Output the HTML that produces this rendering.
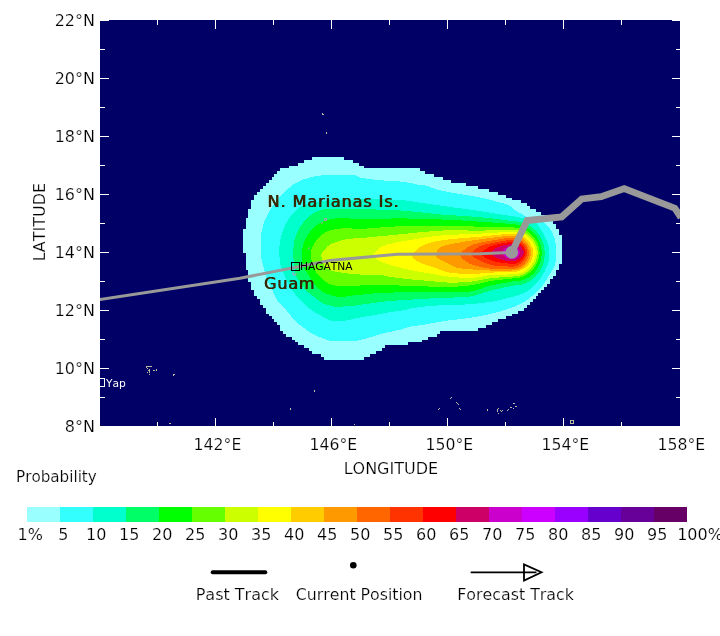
<!DOCTYPE html>
<html><head><meta charset="utf-8">
<style>
html,body{margin:0;padding:0;background:#fff;}
body{width:720px;height:636px;overflow:hidden;position:relative;}
svg{position:absolute;left:0;top:0;}
text{font-family:"DejaVu Sans","Liberation Sans",sans-serif;fill:#000;font-kerning:none;}
.ax{font-size:16px;} .ax text,text.ax{stroke:#fff;stroke-width:0.2px;}
.tk{stroke:#fff;stroke-width:1;shape-rendering:crispEdges;}
.lbl{position:absolute;font:16px "DejaVu Sans","Liberation Sans",sans-serif;color:#382600;text-shadow:0.75px 0 0 #382600;letter-spacing:0.82px;white-space:nowrap;line-height:20px;font-kerning:none;}
</style></head><body>
<svg width="720" height="636" viewBox="0 0 720 636">
<!-- MAP -->
<rect x="100" y="20" width="580" height="406" fill="#000066" shape-rendering="crispEdges"/>
<g id="swath" shape-rendering="crispEdges">
<path d="M312 157H344V160H312ZM304 160H353V163H304ZM298 163H359V166H298ZM289 166H364V168H289ZM280 168H420V171H280ZM277 171H425V174H277ZM274 174H434V177H274ZM272 177H443V180H272ZM269 180H451V183H269ZM266 183H466V186H266ZM263 186H478V189H263ZM260 189H489V192H260ZM257 192H498V195H257ZM254 195H506V198H254ZM254 198H512V200H254ZM251 200H521V203H251ZM251 203H527V206H251ZM251 206H530V209H251ZM248 209H536V212H248ZM248 212H541V215H248ZM248 215H547V218H248ZM246 218H550V221H246ZM246 221H553V224H246ZM246 224H556V226H246ZM246 226H556V229H246ZM243 229H559V232H243ZM243 232H559V235H243ZM243 235H562V238H243ZM243 238H562V241H243ZM243 241H562V244H243ZM243 244H562V247H243ZM243 247H562V250H243ZM243 250H562V253H243ZM246 253H562V256H246ZM246 256H562V258H246ZM246 258H562V261H246ZM246 261H562V264H246ZM246 264H559V267H246ZM246 267H559V270H246ZM248 270H556V273H248ZM248 273H556V276H248ZM248 276H553V279H248ZM248 279H550V282H248ZM251 282H550V284H251ZM251 284H547V287H251ZM251 287H544V290H251ZM254 290H541V293H254ZM254 293H538V296H254ZM257 296H536V299H257ZM260 299H533V302H260ZM260 302H530V305H260ZM263 305H527V308H263ZM266 308H524V311H266ZM266 311H518V314H266ZM269 314H512V316H269ZM272 316H506V319H272ZM274 319H498V322H274ZM277 322H492V325H277ZM280 325H486V328H280ZM280 328H478V331H280ZM283 331H440V334H283ZM286 334H437V337H286ZM292 337H428V340H292ZM295 340H422V342H295ZM298 342H408V345H298ZM304 345H385V348H304ZM309 348H382V351H309ZM312 351H376V354H312ZM321 354H370V357H321ZM324 357H364V360H324Z" fill="#99ffff"/>
<path d="M261.0 245.0C261.1 241.2 260.6 237.5 261.3 233.3C262.0 229.1 263.2 224.4 265.0 220.0C266.8 215.6 269.2 211.2 272.0 207.0C274.8 202.8 277.9 198.9 281.7 195.0C285.5 191.1 290.3 186.2 295.0 183.3C299.7 180.4 304.7 178.9 310.0 177.5C315.3 176.1 319.5 175.4 326.7 175.0C333.9 174.6 347.4 174.6 353.0 175.0C358.6 175.4 356.1 176.7 360.0 177.5C363.9 178.3 369.8 179.3 376.7 180.0C383.6 180.7 394.5 180.9 401.7 181.7C408.9 182.5 415.8 184.3 420.0 185.0C424.2 185.7 423.6 185.0 426.7 185.8C429.8 186.6 432.8 188.6 438.3 190.0C443.9 191.4 453.1 192.8 460.0 194.0C466.9 195.2 473.3 196.1 480.0 197.5C486.7 198.9 495.0 201.1 500.0 202.5C505.0 203.9 507.5 204.6 510.0 205.8C512.5 207.1 512.2 208.2 515.0 210.0C517.8 211.8 522.5 214.9 526.7 216.7C530.9 218.4 536.6 219.1 540.0 220.5C543.4 221.9 544.8 222.9 546.9 225.0C549.0 227.1 551.0 229.8 552.5 233.0C554.0 236.2 555.2 240.2 555.8 244.0C556.4 247.8 556.3 252.7 556.2 256.0C556.1 259.3 555.5 261.9 555.0 264.0C554.5 266.1 554.4 266.2 553.3 268.3C552.2 270.4 550.2 273.6 548.3 276.7C546.4 279.8 544.2 283.6 541.7 286.7C539.2 289.8 536.4 292.4 533.3 295.0C530.2 297.6 527.2 300.3 523.3 302.5C519.4 304.7 515.0 306.5 510.0 308.3C505.0 310.1 498.9 311.9 493.3 313.3C487.8 314.7 482.2 315.7 476.7 316.7C471.1 317.7 464.4 318.6 460.0 319.2C455.6 319.8 455.0 319.5 450.0 320.2C445.0 320.9 435.0 322.6 430.0 323.5C425.0 324.4 423.3 324.8 420.0 325.3C416.7 325.8 413.3 326.0 410.0 326.7C406.7 327.4 403.9 328.7 400.0 329.7C396.1 330.7 390.6 331.6 386.7 332.5C382.8 333.4 380.0 334.3 376.7 335.3C373.4 336.3 370.3 337.4 366.7 338.3C363.1 339.2 360.8 340.4 355.0 340.8C349.2 341.2 337.0 341.2 331.7 340.8C326.4 340.4 326.6 339.8 323.3 338.5C320.0 337.2 315.0 335.1 311.7 333.3C308.4 331.5 306.2 329.7 303.3 327.5C300.4 325.3 297.2 323.2 294.2 320.0C291.1 316.8 288.0 311.8 285.0 308.3C282.0 304.8 278.3 302.1 276.3 299.2C274.3 296.3 274.4 294.0 272.9 290.8C271.3 287.6 268.6 284.1 267.0 280.0C265.4 275.9 264.3 270.0 263.3 266.0C262.3 262.0 261.2 259.5 260.8 256.0C260.4 252.5 260.9 248.8 261.0 245.0Z" fill="#33ffff"/>
<path d="M279.5 246.0C279.9 240.8 281.1 235.8 282.6 231.2C284.2 226.6 286.7 221.8 288.8 218.6C290.9 215.3 293.4 213.5 295.1 211.7C296.8 209.9 297.1 209.0 298.9 207.8C300.7 206.6 303.3 205.4 306.0 204.5C308.7 203.6 311.0 203.0 315.0 202.3C319.0 201.6 325.8 200.7 330.0 200.3C334.2 199.9 333.3 200.0 340.0 199.8C346.7 199.7 360.2 199.4 370.0 199.4C379.8 199.4 390.0 199.2 399.0 199.8C408.0 200.5 417.2 202.4 424.0 203.3C430.8 204.2 434.0 204.7 440.0 205.5C446.0 206.3 453.3 207.4 460.0 208.3C466.7 209.2 473.3 210.0 480.0 211.0C486.7 212.0 495.0 213.5 500.0 214.3C505.0 215.1 506.7 215.3 510.0 215.8C513.3 216.3 515.9 216.5 520.0 217.5C524.1 218.5 530.7 218.9 534.6 221.7C538.5 224.4 541.4 230.3 543.6 234.0C545.8 237.7 547.1 240.9 548.0 244.0C548.9 247.1 549.1 249.4 549.2 252.4C549.3 255.4 549.0 259.5 548.6 261.9C548.2 264.3 547.9 264.2 546.7 266.7C545.6 269.2 543.9 273.4 541.7 276.7C539.5 280.0 536.4 283.9 533.3 286.7C530.2 289.5 527.2 291.5 523.3 293.3C519.4 295.1 515.0 296.1 510.0 297.5C505.0 298.9 498.9 300.5 493.3 301.5C487.8 302.5 482.2 302.9 476.7 303.5C471.1 304.1 464.4 304.6 460.0 304.8C455.6 305.1 455.0 304.8 450.0 305.0C445.0 305.2 436.7 305.4 430.0 306.0C423.3 306.6 414.2 307.8 410.0 308.5C405.8 309.2 408.6 309.3 405.0 310.0C401.4 310.7 393.3 311.7 388.3 312.5C383.3 313.3 380.0 314.1 375.0 315.0C370.0 315.9 362.9 316.9 358.3 317.8C353.7 318.7 350.9 319.8 347.5 320.3C344.1 320.8 340.9 321.0 338.0 321.0C335.1 321.0 332.3 320.9 330.0 320.3C327.7 319.7 326.4 318.7 324.2 317.5C322.0 316.3 319.2 314.8 316.7 313.3C314.2 311.8 311.4 310.1 309.2 308.3C307.0 306.5 305.2 304.4 303.3 302.5C301.4 300.6 299.3 298.6 297.5 296.7C295.7 294.8 294.4 293.8 292.5 290.8C290.6 287.9 287.7 282.5 286.0 279.0C284.3 275.5 283.5 272.7 282.5 270.0C281.5 267.3 280.5 266.6 280.0 262.6C279.5 258.6 279.1 251.2 279.5 246.0Z" fill="#00ffcc"/>
<path d="M293.3 249.0C293.5 244.9 294.1 241.1 295.2 237.5C296.3 233.9 298.0 230.4 299.8 227.4C301.6 224.4 303.8 221.8 306.0 219.5C308.2 217.2 310.5 215.1 313.0 213.5C315.5 211.9 317.7 210.8 321.0 210.0C324.3 209.2 326.3 208.7 332.8 208.6C339.3 208.5 348.8 208.9 360.0 209.2C371.2 209.5 386.7 209.5 400.0 210.4C413.3 211.3 426.7 213.3 440.0 214.4C453.3 215.5 468.5 216.2 480.0 217.2C491.5 218.2 501.4 219.6 509.0 220.6C516.6 221.6 520.8 221.5 525.4 223.3C530.0 225.1 533.8 228.5 536.7 231.5C539.5 234.5 541.2 237.7 542.6 241.2C543.9 244.7 544.7 248.4 544.8 252.4C544.9 256.4 544.4 260.9 542.9 264.9C541.4 269.0 538.9 273.3 535.8 276.4C532.8 279.6 528.4 282.1 524.4 283.7C520.4 285.3 517.5 284.7 511.8 285.9C506.1 287.1 495.3 289.4 490.0 290.8C484.7 292.2 483.3 293.1 480.0 294.0C476.7 294.9 475.0 295.9 470.0 296.5C465.0 297.1 456.7 297.4 450.0 297.7C443.3 298.0 436.7 298.2 430.0 298.5C423.3 298.8 416.7 299.3 410.0 299.7C403.3 300.1 396.7 300.4 390.0 301.0C383.3 301.6 373.9 303.0 370.0 303.5C366.1 304.0 369.5 303.4 366.7 303.8C363.9 304.2 358.3 305.3 353.3 305.8C348.3 306.3 340.9 306.8 336.7 306.7C332.5 306.6 330.4 305.5 328.3 305.0C326.2 304.5 325.8 304.8 323.9 303.9C322.0 303.0 319.2 300.9 317.2 299.4C315.2 297.9 313.5 296.5 311.7 295.0C309.9 293.5 308.0 292.6 306.1 290.6C304.2 288.6 302.4 285.4 300.6 282.8C298.8 280.2 296.6 278.5 295.5 275.0C294.4 271.5 294.2 266.3 293.8 262.0C293.4 257.7 293.1 253.1 293.3 249.0Z" fill="#00ff66"/>
<path d="M302.2 251.0C302.5 247.4 302.9 244.3 304.2 241.2C305.4 238.1 307.7 235.0 309.7 232.4C311.7 229.8 313.5 227.4 316.0 225.5C318.5 223.6 321.5 222.0 324.5 220.8C327.5 219.7 330.5 219.1 334.0 218.6C337.5 218.1 341.1 217.9 345.4 218.0C349.7 218.1 350.9 219.1 360.0 219.2C369.1 219.3 386.7 218.4 400.0 218.4C413.3 218.4 426.7 218.9 440.0 219.4C453.3 219.9 468.5 220.9 480.0 221.7C491.5 222.4 501.7 223.2 509.0 223.9C516.3 224.6 519.8 224.6 524.0 226.2C528.2 227.8 531.7 230.9 534.3 233.5C536.9 236.2 538.4 239.1 539.7 242.3C540.9 245.4 541.8 248.8 541.8 252.4C541.8 256.0 541.3 260.1 539.8 263.7C538.4 267.3 536.2 271.2 533.4 274.0C530.6 276.7 526.6 278.8 523.0 280.1C519.4 281.3 517.3 280.6 511.8 281.6C506.3 282.6 495.3 284.6 490.0 285.8C484.7 287.0 483.3 288.1 480.0 289.0C476.7 289.9 475.0 291.0 470.0 291.5C465.0 292.0 456.7 291.8 450.0 291.8C443.3 291.9 436.7 291.8 430.0 291.8C423.3 291.8 416.7 291.7 410.0 291.8C403.3 291.9 395.0 292.5 390.0 292.7C385.0 292.9 383.9 292.6 380.0 292.9C376.1 293.1 371.1 293.8 366.7 294.2C362.2 294.6 357.9 294.9 353.3 295.4C348.7 295.9 343.7 297.4 339.2 297.1C334.7 296.8 329.5 294.9 326.1 293.5C322.7 292.1 321.0 290.7 318.9 288.9C316.8 287.1 315.0 285.0 313.3 282.8C311.6 280.6 310.3 277.7 308.9 275.6C307.5 273.5 306.1 272.2 305.0 270.0C303.9 267.8 303.0 265.8 302.5 262.6C302.0 259.4 301.9 254.6 302.2 251.0Z" fill="#00ff00"/>
<path d="M310.8 253.0C310.9 250.3 311.6 248.7 312.7 246.3C313.8 243.9 315.6 241.0 317.7 238.7C319.8 236.4 322.4 234.0 325.3 232.4C328.2 230.8 331.5 230.0 335.3 229.3C339.1 228.6 343.8 228.1 347.9 228.0C352.0 227.9 351.3 229.2 360.0 228.9C368.7 228.6 386.7 226.8 400.0 226.2C413.3 225.6 426.7 225.5 440.0 225.6C453.3 225.7 468.5 226.4 480.0 226.7C491.5 227.0 501.9 226.8 509.0 227.2C516.1 227.6 518.9 227.6 522.8 228.9C526.6 230.3 529.8 232.9 532.2 235.3C534.6 237.6 536.1 240.2 537.4 243.1C538.6 245.9 539.6 249.1 539.6 252.4C539.6 255.7 538.7 259.5 537.3 262.7C535.8 265.9 533.5 269.2 531.0 271.6C528.4 274.0 525.0 275.9 521.8 277.1C518.6 278.2 517.1 277.8 511.8 278.5C506.5 279.2 495.3 280.3 490.0 281.1C484.7 281.9 483.3 282.8 480.0 283.5C476.7 284.2 475.0 284.8 470.0 285.4C465.0 285.9 460.0 286.7 450.0 286.8C440.0 286.9 421.7 286.4 410.0 286.0C398.3 285.6 387.8 284.7 380.0 284.6C372.2 284.5 368.4 285.2 363.3 285.4C358.2 285.6 354.1 285.8 349.2 285.8C344.3 285.8 338.1 286.0 334.2 285.4C330.3 284.8 328.2 283.6 325.8 282.1C323.4 280.7 321.8 278.6 320.0 276.7C318.2 274.8 316.3 272.9 315.0 270.5C313.7 268.1 312.8 265.5 312.1 262.6C311.4 259.7 310.7 255.7 310.8 253.0Z" fill="#66ff00"/>
<path d="M321.5 254.0C322.0 252.1 323.8 250.4 325.3 248.8C326.8 247.2 327.8 245.8 330.3 244.4C332.8 243.0 337.0 241.6 340.4 240.6C343.8 239.6 347.1 239.1 350.4 238.7C353.7 238.3 351.7 238.8 360.0 238.1C368.3 237.4 386.7 235.6 400.0 234.3C413.3 233.1 426.7 231.2 440.0 230.6C453.3 230.0 468.5 230.7 480.0 230.6C491.5 230.5 502.0 229.9 509.0 230.0C516.0 230.1 518.1 230.1 521.7 231.2C525.3 232.3 528.2 234.6 530.5 236.7C532.8 238.8 534.3 241.1 535.6 243.8C536.8 246.4 537.9 249.4 537.9 252.4C537.9 255.4 536.9 259.0 535.5 262.0C534.1 264.9 532.0 267.9 529.5 270.1C527.1 272.4 524.0 274.2 521.0 275.3C518.1 276.3 517.0 276.1 511.8 276.6C506.6 277.1 495.3 277.7 490.0 278.3C484.7 278.9 483.3 279.6 480.0 280.2C476.7 280.8 475.0 281.3 470.0 281.7C465.0 282.1 456.7 282.8 450.0 282.7C443.3 282.6 436.7 281.6 430.0 281.0C423.3 280.4 416.7 280.0 410.0 279.3C403.3 278.6 395.0 277.6 390.0 276.8C385.0 276.1 384.7 275.2 380.0 274.8C375.3 274.4 366.6 274.8 361.7 274.6C356.8 274.4 354.3 274.1 350.8 273.8C347.3 273.4 344.1 273.1 340.8 272.5C337.5 271.9 333.4 271.4 330.8 270.4C328.2 269.4 326.4 268.2 325.0 266.5C323.6 264.8 322.9 262.1 322.3 260.0C321.7 257.9 321.0 255.9 321.5 254.0Z" fill="#ccff00"/>
<path d="M372.0 255.5C373.6 254.1 377.7 248.9 381.4 246.8C385.1 244.7 388.8 244.2 394.0 243.0C399.2 241.8 405.1 240.7 412.8 239.5C420.5 238.3 428.8 236.6 440.0 235.6C451.2 234.6 468.5 234.2 480.0 233.6C491.5 233.0 502.2 232.1 509.0 232.0C515.8 231.9 517.5 232.0 520.9 233.0C524.2 233.9 526.9 236.0 529.0 237.9C531.2 239.8 532.6 242.0 533.7 244.4C534.9 246.8 536.0 249.6 536.0 252.4C536.0 255.2 535.1 258.5 533.8 261.3C532.5 264.0 530.5 266.8 528.2 268.8C526.0 270.8 523.0 272.4 520.2 273.3C517.5 274.2 516.8 274.0 511.8 274.3C506.8 274.6 495.3 274.8 490.0 275.2C484.7 275.6 483.3 276.4 480.0 276.8C476.7 277.2 475.0 277.9 470.0 277.9C465.0 277.9 456.7 277.5 450.0 276.8C443.3 276.1 436.7 274.6 430.0 273.5C423.3 272.4 415.8 271.2 410.0 270.0C404.2 268.8 399.7 267.6 395.0 266.3C390.3 265.0 385.2 263.3 382.0 262.0C378.8 260.7 377.7 259.6 376.0 258.5C374.3 257.4 372.7 256.0 372.0 255.5Z" fill="#ffff00"/>
<path d="M411.6 256.3C413.0 254.8 415.3 249.6 420.0 247.0C424.7 244.4 430.0 242.3 440.0 240.6C450.0 238.9 468.5 237.8 480.0 236.7C491.5 235.6 502.3 234.2 509.0 233.9C515.7 233.6 516.9 234.0 520.0 234.9C523.0 235.8 525.3 237.7 527.2 239.5C529.1 241.2 530.3 243.1 531.3 245.3C532.3 247.5 533.2 249.9 533.2 252.4C533.2 254.9 532.4 257.8 531.3 260.3C530.1 262.7 528.4 265.2 526.4 267.0C524.4 268.7 521.7 270.1 519.3 270.9C516.9 271.7 516.7 271.5 511.8 271.8C506.9 272.1 495.3 272.4 490.0 272.7C484.7 273.0 483.3 273.3 480.0 273.5C476.7 273.7 475.0 273.9 470.0 273.8C465.0 273.6 456.7 274.0 450.0 272.7C443.3 271.4 435.0 267.7 430.0 266.0C425.0 264.3 422.7 263.9 420.0 262.7C417.3 261.5 415.4 260.1 414.0 259.0C412.6 257.9 412.0 256.8 411.6 256.3Z" fill="#ffcc00"/>
<path d="M436.0 256.0C436.7 254.5 436.0 249.4 440.0 247.2C444.0 244.9 453.3 243.8 460.0 242.5C466.7 241.2 471.8 240.5 480.0 239.4C488.2 238.3 502.5 236.2 509.0 235.8C515.5 235.4 516.4 235.9 519.1 236.7C521.9 237.5 523.9 239.2 525.6 240.8C527.3 242.4 528.4 244.1 529.3 246.0C530.2 248.0 531.0 250.1 531.0 252.4C531.0 254.7 530.4 257.3 529.5 259.5C528.5 261.8 527.0 264.1 525.2 265.8C523.4 267.4 521.0 268.8 518.7 269.6C516.5 270.3 516.6 270.3 511.8 270.5C507.0 270.7 495.3 270.5 490.0 270.5C484.7 270.5 483.3 270.5 480.0 270.3C476.7 270.1 473.9 269.6 470.0 269.2C466.1 268.8 461.1 269.1 456.7 267.7C452.2 266.3 446.4 262.5 443.3 261.0C440.2 259.5 439.2 259.3 438.0 258.5C436.8 257.7 436.3 256.4 436.0 256.0Z" fill="#ff9900"/>
<path d="M459.5 254.4C460.9 253.2 464.6 248.9 468.0 247.0C471.4 245.1 473.2 244.3 480.0 242.8C486.8 241.3 502.6 238.5 509.0 237.8C515.4 237.1 515.8 237.8 518.3 238.5C520.8 239.2 522.6 240.7 524.1 242.1C525.6 243.5 526.6 245.0 527.4 246.7C528.2 248.4 529.0 250.4 529.0 252.4C529.0 254.4 528.5 256.8 527.6 258.8C526.7 260.8 525.3 262.8 523.8 264.4C522.2 265.9 520.0 267.1 518.0 267.8C516.0 268.6 516.5 268.7 511.8 268.8C507.1 268.9 495.3 268.9 490.0 268.6C484.7 268.3 483.3 267.6 480.0 266.8C476.7 266.0 473.0 265.2 470.0 263.8C467.0 262.4 463.8 260.1 462.0 258.5C460.2 256.9 459.9 255.1 459.5 254.4Z" fill="#ff6600"/>
<path d="M470.3 253.5C471.9 252.3 475.9 247.9 480.0 246.1C484.1 244.3 490.2 243.5 495.0 242.5C499.8 241.5 505.3 240.4 509.0 240.0C512.7 239.6 515.1 239.8 517.4 240.4C519.7 240.9 521.3 242.1 522.7 243.3C524.1 244.4 525.0 245.8 525.8 247.3C526.6 248.8 527.4 250.6 527.4 252.4C527.4 254.2 526.6 256.3 525.8 258.0C524.9 259.7 523.5 261.4 522.1 262.7C520.6 263.9 518.9 265.0 517.2 265.7C515.5 266.4 515.5 266.6 511.8 266.6C508.1 266.6 499.5 266.2 495.0 265.6C490.5 265.0 488.5 264.2 485.0 262.8C481.5 261.4 476.4 259.1 474.0 257.5C471.6 255.9 470.9 254.2 470.3 253.5Z" fill="#ff3300"/>
<path d="M480.5 252.8C482.1 251.8 486.8 248.0 490.0 246.5C493.2 245.0 496.8 244.5 500.0 243.8C503.2 243.1 506.2 242.5 509.0 242.2C511.8 241.9 514.5 241.8 516.5 242.2C518.6 242.6 519.9 243.6 521.2 244.5C522.4 245.5 523.3 246.6 524.1 247.9C524.8 249.2 525.7 250.8 525.7 252.4C525.7 254.0 524.8 255.9 523.9 257.3C523.0 258.7 521.7 260.0 520.4 261.0C519.1 262.0 517.7 262.9 516.2 263.3C514.8 263.8 514.5 263.9 511.8 263.8C509.1 263.7 503.6 263.2 500.0 262.6C496.4 262.0 492.8 261.1 490.0 260.0C487.2 258.9 484.6 257.2 483.0 256.0C481.4 254.8 480.9 253.3 480.5 252.8Z" fill="#ff0000"/>
<path d="M490.5 252.6C491.8 251.7 494.9 248.4 498.0 247.0C501.1 245.6 506.1 244.9 509.0 244.4C511.9 243.9 513.9 243.9 515.7 244.1C517.5 244.3 518.6 245.0 519.7 245.8C520.8 246.5 521.7 247.4 522.4 248.5C523.1 249.7 524.1 251.1 524.0 252.4C523.9 253.7 522.8 255.4 521.9 256.5C521.0 257.6 519.7 258.4 518.6 259.2C517.5 259.9 516.4 260.6 515.3 261.0C514.1 261.3 514.0 261.5 511.8 261.3C509.6 261.1 504.8 260.7 502.0 260.0C499.2 259.3 496.9 258.2 495.0 257.0C493.1 255.8 491.2 253.3 490.5 252.6Z" fill="#cc0066"/>
<path d="M501.0 252.5C501.8 251.8 504.3 249.1 506.0 248.0C507.7 246.9 509.6 246.3 511.0 246.0C512.4 245.7 513.6 245.9 514.7 246.2C515.8 246.5 516.7 247.1 517.4 247.7C518.1 248.3 518.6 249.0 519.0 249.8C519.4 250.6 519.8 251.5 519.8 252.4C519.8 253.3 519.4 254.4 519.0 255.3C518.5 256.2 517.9 257.1 517.1 257.7C516.3 258.3 515.3 258.7 514.4 258.9C513.5 259.1 513.2 259.1 511.8 258.9C510.4 258.7 507.8 258.6 506.0 257.5C504.2 256.4 501.8 253.3 501.0 252.5Z" fill="#cc00cc"/>

</g>
<g id="ticks">
<line class="tk" x1="100" x2="109" y1="426.5" y2="426.5"/><line class="tk" x1="672" x2="680" y1="426.5" y2="426.5"/>
<line class="tk" x1="100" x2="105" y1="397.5" y2="397.5"/><line class="tk" x1="676" x2="680" y1="397.5" y2="397.5"/>
<line class="tk" x1="100" x2="109" y1="368.5" y2="368.5"/><line class="tk" x1="672" x2="680" y1="368.5" y2="368.5"/>
<line class="tk" x1="100" x2="105" y1="339.5" y2="339.5"/><line class="tk" x1="676" x2="680" y1="339.5" y2="339.5"/>
<line class="tk" x1="100" x2="109" y1="310.5" y2="310.5"/><line class="tk" x1="672" x2="680" y1="310.5" y2="310.5"/>
<line class="tk" x1="100" x2="105" y1="281.5" y2="281.5"/><line class="tk" x1="676" x2="680" y1="281.5" y2="281.5"/>
<line class="tk" x1="100" x2="109" y1="252.5" y2="252.5"/><line class="tk" x1="672" x2="680" y1="252.5" y2="252.5"/>
<line class="tk" x1="100" x2="105" y1="223.5" y2="223.5"/><line class="tk" x1="676" x2="680" y1="223.5" y2="223.5"/>
<line class="tk" x1="100" x2="109" y1="194.5" y2="194.5"/><line class="tk" x1="672" x2="680" y1="194.5" y2="194.5"/>
<line class="tk" x1="100" x2="105" y1="165.5" y2="165.5"/><line class="tk" x1="676" x2="680" y1="165.5" y2="165.5"/>
<line class="tk" x1="100" x2="109" y1="136.5" y2="136.5"/><line class="tk" x1="672" x2="680" y1="136.5" y2="136.5"/>
<line class="tk" x1="100" x2="105" y1="107.5" y2="107.5"/><line class="tk" x1="676" x2="680" y1="107.5" y2="107.5"/>
<line class="tk" x1="100" x2="109" y1="78.5" y2="78.5"/><line class="tk" x1="672" x2="680" y1="78.5" y2="78.5"/>
<line class="tk" x1="100" x2="105" y1="49.5" y2="49.5"/><line class="tk" x1="676" x2="680" y1="49.5" y2="49.5"/>
<line class="tk" x1="100" x2="109" y1="20.5" y2="20.5"/><line class="tk" x1="672" x2="680" y1="20.5" y2="20.5"/>
<line class="tk" y1="20" y2="25" x1="157.5" x2="157.5"/><line class="tk" y1="422" y2="426" x1="157.5" x2="157.5"/>
<line class="tk" y1="20" y2="29" x1="215.5" x2="215.5"/><line class="tk" y1="418" y2="426" x1="215.5" x2="215.5"/>
<line class="tk" y1="20" y2="25" x1="273.5" x2="273.5"/><line class="tk" y1="422" y2="426" x1="273.5" x2="273.5"/>
<line class="tk" y1="20" y2="29" x1="331.5" x2="331.5"/><line class="tk" y1="418" y2="426" x1="331.5" x2="331.5"/>
<line class="tk" y1="20" y2="25" x1="389.5" x2="389.5"/><line class="tk" y1="422" y2="426" x1="389.5" x2="389.5"/>
<line class="tk" y1="20" y2="29" x1="447.5" x2="447.5"/><line class="tk" y1="418" y2="426" x1="447.5" x2="447.5"/>
<line class="tk" y1="20" y2="25" x1="505.5" x2="505.5"/><line class="tk" y1="422" y2="426" x1="505.5" x2="505.5"/>
<line class="tk" y1="20" y2="29" x1="563.5" x2="563.5"/><line class="tk" y1="418" y2="426" x1="563.5" x2="563.5"/>
<line class="tk" y1="20" y2="25" x1="621.5" x2="621.5"/><line class="tk" y1="422" y2="426" x1="621.5" x2="621.5"/>

</g>
<g id="track">
<clipPath id="cp"><rect x="100" y="20" width="580" height="406"/></clipPath>
<g clip-path="url(#cp)" fill="none" stroke="#999999" stroke-linejoin="miter"><polyline stroke-width="3.1" points="511.8,252.4 480,253.8 397,254.3 330,260.5 240,278.3 100,299.5 90,301"/><polyline stroke-width="6.8" points="511.8,252.4 527.1,220.5 561.7,216.9 581.8,198.9 601.2,196.6 624.2,188.6 674.8,208.2 681,217.5"/><circle cx="511.8" cy="252.4" r="6.3" fill="#999999" stroke="none"/></g>
</g>
<g id="labels">
<path d="M322 113h1v1h-1zM322 114h1v1h-1zM323 114h1v1h-1zM326 132h1v1h-1zM326 133h1v1h-1zM146 366h1v1h-1zM147 366h1v1h-1zM148 366h1v1h-1zM149 366h1v1h-1zM150 366h1v1h-1zM151 366h1v1h-1zM146 367h1v1h-1zM147 368h1v1h-1zM149 369h1v1h-1zM149 370h1v1h-1zM149 371h1v1h-1zM149 372h1v1h-1zM148 370h1v1h-1zM147 372h1v1h-1zM149 374h1v1h-1zM153 370h1v1h-1zM154 370h1v1h-1zM156 369h1v1h-1zM156 370h1v1h-1zM173 374h1v1h-1zM174 374h1v1h-1zM173 375h1v1h-1zM450 398h1v1h-1zM451 397h1v1h-1zM456 402h1v1h-1zM457 403h1v1h-1zM458 404h1v1h-1zM459 408h1v1h-1zM460 409h1v1h-1zM439 408h1v1h-1zM438 409h1v1h-1zM487 409h1v1h-1zM487 410h1v1h-1zM498 408h1v1h-1zM497 409h1v1h-1zM497 410h1v1h-1zM497 411h1v1h-1zM498 413h1v1h-1zM500 410h1v1h-1zM501 411h1v1h-1zM502 410h1v1h-1zM507 410h1v1h-1zM508 409h1v1h-1zM510 407h1v1h-1zM511 407h1v1h-1zM513 408h1v1h-1zM513 403h1v1h-1zM514 403h1v1h-1zM515 406h1v1h-1zM516 406h1v1h-1zM314 390h1v1h-1zM314 391h1v1h-1zM290 408h1v1h-1zM290 409h1v1h-1zM354 424h1v1h-1zM169 423h1v1h-1zM170 423h1v1h-1z" fill="#bdb9a3" shape-rendering="crispEdges"/>
<rect x="570.5" y="420.5" width="3" height="3" fill="none" stroke="#bdb9a3" shape-rendering="crispEdges"/>
<path d="M293 272v3h3v-2M308 249l2 -1.5M321.5 224l1 -2M324.5 218.5h2v2h-2z" fill="none" stroke="#b49cb0" stroke-width="1"/>
<rect x="291.5" y="262.5" width="8" height="8" fill="none" stroke="#000" stroke-width="1" shape-rendering="crispEdges"/>
<text x="300" y="270" style="font-size:10.7px;fill:#000" textLength="52.6" lengthAdjust="spacingAndGlyphs">HAGATNA</text>
<rect x="96.5" y="378.5" width="8" height="8" fill="none" stroke="#fff" stroke-width="1" shape-rendering="crispEdges" clip-path="url(#cp)"/>
<text x="106" y="386.5" style="font-size:10.7px;fill:#fff">Yap</text>

</g>
<g id="axis" class="ax">
<text x="95" y="432.0" text-anchor="end">8°N</text>
<text x="95" y="374.0" text-anchor="end">10°N</text>
<text x="95" y="316.0" text-anchor="end">12°N</text>
<text x="95" y="258.0" text-anchor="end">14°N</text>
<text x="95" y="200.0" text-anchor="end">16°N</text>
<text x="95" y="142.0" text-anchor="end">18°N</text>
<text x="95" y="84.0" text-anchor="end">20°N</text>
<text x="95" y="26.0" text-anchor="end">22°N</text>
<text x="193.6" y="450" textLength="47.7" lengthAdjust="spacingAndGlyphs">142°E</text>
<text x="309.5" y="450" textLength="47.7" lengthAdjust="spacingAndGlyphs">146°E</text>
<text x="425.5" y="450" textLength="47.7" lengthAdjust="spacingAndGlyphs">150°E</text>
<text x="541.5" y="450" textLength="47.7" lengthAdjust="spacingAndGlyphs">154°E</text>
<text x="657.5" y="450" textLength="47.7" lengthAdjust="spacingAndGlyphs">158°E</text>
<text x="390.9" y="474" text-anchor="middle">LONGITUDE</text>
<text transform="translate(45.3,222) rotate(-90)" text-anchor="middle">LATITUDE</text>

</g>
<g id="legend">
<text class="ax" x="16" y="482" textLength="80.8" lengthAdjust="spacingAndGlyphs">Probability</text>
<g shape-rendering="crispEdges"><rect x="27" y="507" width="33" height="15" fill="#99ffff"/><rect x="60" y="507" width="33" height="15" fill="#33ffff"/><rect x="93" y="507" width="33" height="15" fill="#00ffcc"/><rect x="126" y="507" width="33" height="15" fill="#00ff66"/><rect x="159" y="507" width="33" height="15" fill="#00ff00"/><rect x="192" y="507" width="33" height="15" fill="#66ff00"/><rect x="225" y="507" width="33" height="15" fill="#ccff00"/><rect x="258" y="507" width="33" height="15" fill="#ffff00"/><rect x="291" y="507" width="33" height="15" fill="#ffcc00"/><rect x="324" y="507" width="33" height="15" fill="#ff9900"/><rect x="357" y="507" width="33" height="15" fill="#ff6600"/><rect x="390" y="507" width="33" height="15" fill="#ff3300"/><rect x="423" y="507" width="33" height="15" fill="#ff0000"/><rect x="456" y="507" width="33" height="15" fill="#cc0066"/><rect x="489" y="507" width="33" height="15" fill="#cc00cc"/><rect x="522" y="507" width="33" height="15" fill="#cc00ff"/><rect x="555" y="507" width="33" height="15" fill="#9900ff"/><rect x="588" y="507" width="33" height="15" fill="#6600cc"/><rect x="621" y="507" width="33" height="15" fill="#660099"/><rect x="654" y="507" width="33" height="15" fill="#660066"/></g>
<g class="ax" text-anchor="middle"><text x="30.3" y="540">1%</text><text x="63.3" y="540">5</text><text x="96.3" y="540">10</text><text x="129.3" y="540">15</text><text x="162.3" y="540">20</text><text x="195.3" y="540">25</text><text x="228.3" y="540">30</text><text x="261.3" y="540">35</text><text x="294.3" y="540">40</text><text x="327.3" y="540">45</text><text x="360.3" y="540">50</text><text x="393.3" y="540">55</text><text x="426.3" y="540">60</text><text x="459.3" y="540">65</text><text x="492.3" y="540">70</text><text x="525.3" y="540">75</text><text x="558.3" y="540">80</text><text x="591.3" y="540">85</text><text x="624.3" y="540">90</text><text x="657.3" y="540">95</text></g>
<text class="ax" x="677.2" y="540">100%</text>
<line x1="212.7" x2="265.3" y1="572.3" y2="572.3" stroke="#000" stroke-width="4" stroke-linecap="round"/>
<circle cx="353.3" cy="565.3" r="3.3" fill="#000"/>
<path d="M524 564.5L524 580.5L541.5 572.3Z" fill="#fff" stroke="#000" stroke-width="1.8"/>
<line x1="470.7" x2="536.5" y1="572.3" y2="572.3" stroke="#000" stroke-width="1.8"/>
<g class="ax"><text x="195.7" y="600">Past Track</text><text x="295.8" y="600" textLength="126.7" lengthAdjust="spacingAndGlyphs">Current Position</text><text x="457.2" y="600" textLength="116.7" lengthAdjust="spacingAndGlyphs">Forecast Track</text></g>

</g>
</svg>
<div class="lbl" style="left:267.3px;top:191.6px;letter-spacing:0.92px">N. Marianas Is.</div>
<div class="lbl" style="left:263.8px;top:273.9px">Guam</div>
</body></html>
